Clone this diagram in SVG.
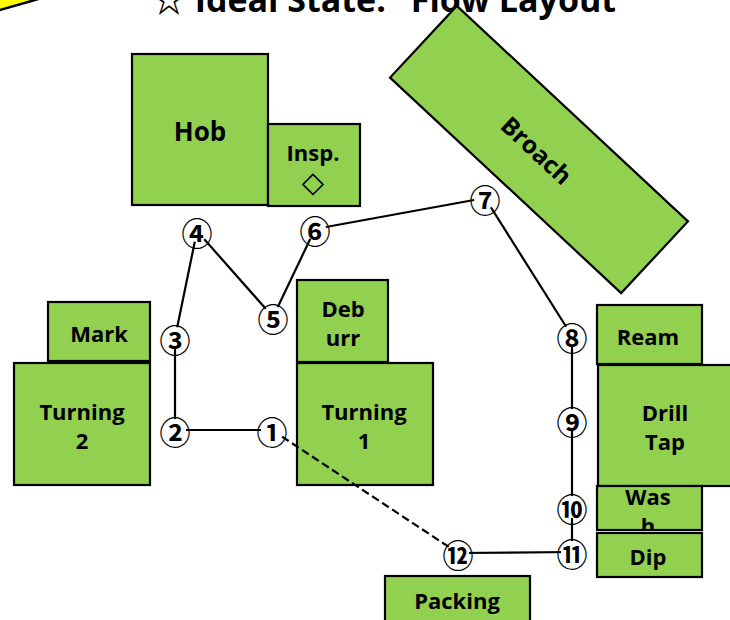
<svg xmlns="http://www.w3.org/2000/svg" width="730" height="620" viewBox="0 0 730 620">
<defs>
<style>
.box{fill:#92D050;stroke:#000;stroke-width:2.2}
.lbl{font-family:"Open Sans","Liberation Sans",sans-serif;font-weight:bold;font-size:22px;fill:#000;text-anchor:middle;dominant-baseline:central}
.conn{stroke:#000;stroke-width:2.2;fill:none}
.dash{stroke-dasharray:8,4}
.num{font-family:"Noto Sans CJK JP",sans-serif;font-weight:bold;font-size:31px;fill:#000;text-anchor:middle;dominant-baseline:central}
.bg{fill:#fff}
.title{font-family:"Open Sans","Liberation Sans","Noto Sans CJK JP",sans-serif;font-weight:bold;font-size:34px;fill:#000;text-anchor:middle}
</style>
<clipPath id="washClip"><rect x="597" y="486" width="105" height="44"/></clipPath>
</defs>
<polygon points="-20,15.7 50,-4.3 50,-30 -20,-30" fill="#FFFF00" stroke="#000" stroke-width="2.5"/>
<text class="title" x="392" y="12">☆ Ideal State: "Flow Layout"</text>

<g id="hob"><rect class="box" x="132" y="54" width="136" height="151"/><text class="lbl" x="200" y="131" style="font-size:26px">Hob</text></g>
<g id="insp"><rect class="box" x="268" y="124" width="92" height="82"/><text class="lbl" x="313" y="152">Insp.</text><text class="lbl" x="313" y="182" style="font-family:'DejaVu Sans',sans-serif;font-weight:bold;font-size:29px">◇</text></g>
<g id="broach"><rect class="box" x="381" y="100.5" width="316" height="98" transform="rotate(43 539 149.5)"/><text class="lbl" x="537" y="150" transform="rotate(43 537 150)" style="font-size:24.5px">Broach</text></g>
<g id="mark"><rect class="box" x="48" y="302" width="102" height="59"/><text class="lbl" x="99" y="333">Mark</text></g>
<g id="turning2"><rect class="box" x="14" y="363" width="136" height="122"/><text class="lbl" x="82" y="411">Turning</text><text class="lbl" x="82" y="440">2</text></g>
<g id="deburr"><rect class="box" x="297" y="280" width="91" height="82"/><text class="lbl" x="343" y="308">Deb</text><text class="lbl" x="343" y="337">urr</text></g>
<g id="turning1"><rect class="box" x="297" y="363" width="136" height="122"/><text class="lbl" x="364" y="411">Turning</text><text class="lbl" x="364" y="440">1</text></g>
<g id="ream"><rect class="box" x="597" y="305" width="105" height="59"/><text class="lbl" x="648" y="336">Ream</text></g>
<g id="drilltap"><rect class="box" x="598" y="365" width="140" height="121"/><text class="lbl" x="665" y="412">Drill</text><text class="lbl" x="665" y="441">Tap</text></g>
<g id="wash"><rect class="box" x="597" y="486" width="105" height="44"/><g clip-path="url(#washClip)"><text class="lbl" x="648" y="496">Was</text><text class="lbl" x="648" y="525">h</text></g></g>
<g id="dip"><rect class="box" x="597" y="533" width="105" height="44"/><text class="lbl" x="648" y="556">Dip</text></g>
<g id="packing"><rect class="box" x="385" y="576" width="145" height="60"/><text class="lbl" x="457" y="600">Packing</text></g>

<g id="connectors">
<line class="conn" x1="175" y1="430" x2="272" y2="430"/>
<line class="conn" x1="175" y1="430" x2="175" y2="338"/>
<line class="conn" x1="175" y1="338" x2="197" y2="231"/>
<line class="conn" x1="197" y1="231" x2="273" y2="317"/>
<line class="conn" x1="273" y1="317" x2="315" y2="229"/>
<line class="conn" x1="315" y1="229" x2="485" y2="198"/>
<line class="conn" x1="485" y1="198" x2="572" y2="336"/>
<line class="conn" x1="572" y1="336" x2="572" y2="552"/>
<line class="conn" x1="572" y1="552" x2="458" y2="553"/>
<line class="conn dash" x1="272" y1="430" x2="458" y2="553"/>
</g>

<g id="n1"><circle class="bg" cx="272" cy="430" r="11"/><text class="num" x="272" y="430">①</text></g>
<g id="n2"><circle class="bg" cx="175" cy="430" r="11"/><text class="num" x="175" y="430">②</text></g>
<g id="n3"><circle class="bg" cx="175" cy="338" r="11"/><text class="num" x="175" y="338">③</text></g>
<g id="n4"><circle class="bg" cx="197" cy="231" r="11"/><text class="num" x="197" y="231">④</text></g>
<g id="n5"><circle class="bg" cx="273" cy="317" r="11"/><text class="num" x="273" y="317">⑤</text></g>
<g id="n6"><circle class="bg" cx="315" cy="229" r="11"/><text class="num" x="315" y="229">⑥</text></g>
<g id="n7"><circle class="bg" cx="485" cy="198" r="11"/><text class="num" x="485" y="198">⑦</text></g>
<g id="n8"><circle class="bg" cx="572" cy="336" r="11"/><text class="num" x="572" y="336">⑧</text></g>
<g id="n9"><circle class="bg" cx="572" cy="420" r="11"/><text class="num" x="572" y="420">⑨</text></g>
<g id="n10"><circle class="bg" cx="572" cy="507" r="11"/><text class="num" x="572" y="507">⑩</text></g>
<g id="n11"><circle class="bg" cx="572" cy="552" r="11"/><text class="num" x="572" y="552">⑪</text></g>
<g id="n12"><circle class="bg" cx="458" cy="553" r="11"/><text class="num" x="458" y="553">⑫</text></g>
</svg>
